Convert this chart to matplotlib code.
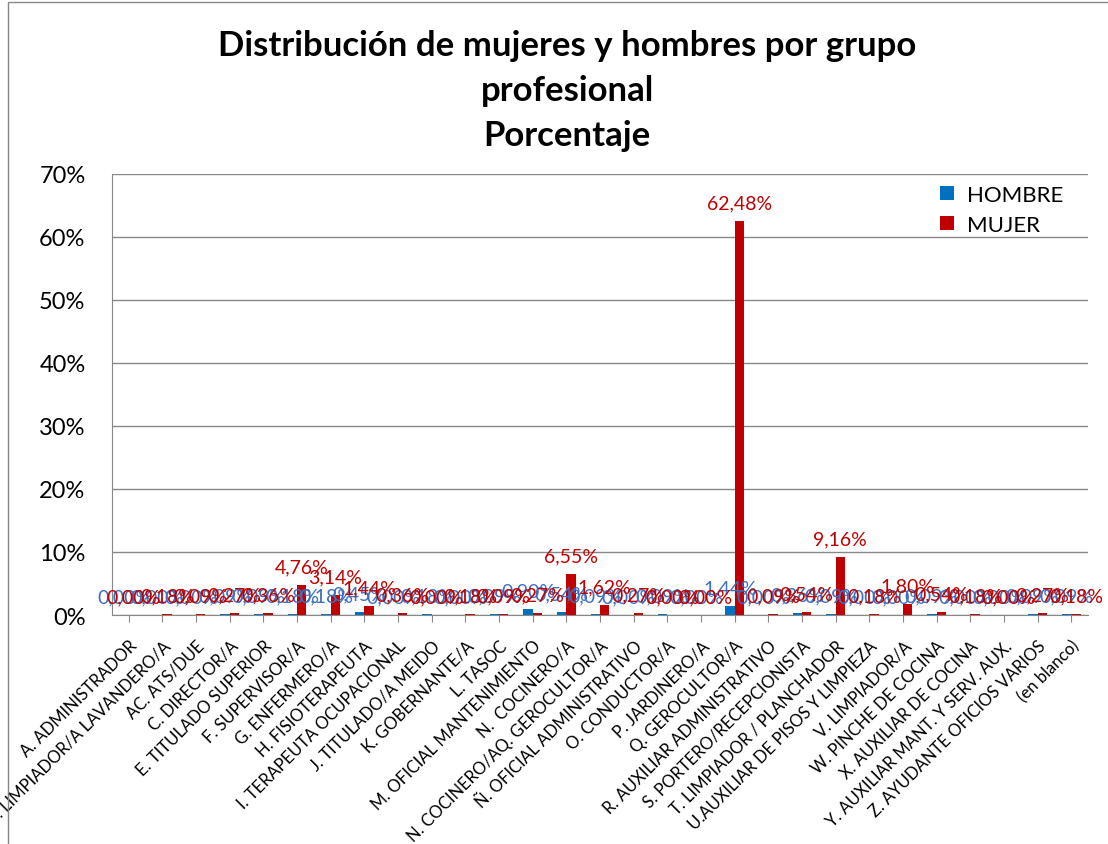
import matplotlib
matplotlib.use("Agg")
import matplotlib.pyplot as plt
import numpy as np
from matplotlib.patches import Rectangle

plt.rcParams['font.family'] = ['Lato', 'DejaVu Sans']

grupos = [
    "A. ADMINISTRADOR",
    "AB. LIMPIADOR/A LAVANDERO/A",
    "AC. ATS/DUE",
    "C. DIRECTOR/A",
    "E. TITULADO SUPERIOR",
    "F. SUPERVISOR/A",
    "G. ENFERMERO/A",
    "H. FISIOTERAPEUTA",
    "I. TERAPEUTA OCUPACIONAL",
    "J. TITULADO/A MEIDO",
    "K. GOBERNANTE/A",
    "L. TASOC",
    "M. OFICIAL MANTENIMIENTO",
    "N.  COCINERO/A",
    "N. COCINERO/AQ. GEROCULTOR/A",
    "Ñ. OFICIAL ADMINISTRATIVO",
    "O. CONDUCTOR/A",
    "P. JARDINERO/A",
    "Q. GEROCULTOR/A",
    "R. AUXILIAR ADMINISTRATIVO",
    "S. PORTERO/RECEPCIONISTA",
    "T. LIMPIADOR / PLANCHADOR",
    "U.AUXILIAR DE PISOS Y LIMPIEZA",
    "V. LIMPIADOR/A",
    "W. PINCHE DE COCINA",
    "X. AUXILIAR DE COCINA",
    "Y. AUXILIAR MANT. Y SERV. AUX.",
    "Z. AYUDANTE OFICIOS VARIOS",
    "(en blanco)",
]

hombre = [0.00, 0.00, 0.00, 0.09, 0.09, 0.18, 0.18, 0.45, 0.00, 0.18,
          0.00, 0.09, 0.90, 0.54, 0.09, 0.00, 0.09, 0.00, 1.44, 0.00,
          0.36, 0.09, 0.00, 0.00, 0.09, 0.00, 0.00, 0.09, 0.09]
mujer = [0.00, 0.18, 0.09, 0.27, 0.36, 4.76, 3.14, 1.44, 0.36, 0.00,
         0.18, 0.09, 0.27, 6.55, 1.62, 0.27, 0.00, 0.00, 62.48, 0.09,
         0.54, 9.16, 0.18, 1.80, 0.54, 0.18, 0.00, 0.27, 0.18]

azul = "#0070C0"
rojo = "#C00000"

fig = plt.figure(figsize=(11.08, 8.45), dpi=100)
ax = fig.add_axes([0.101, 0.271, 0.881, 0.522])

x = np.arange(len(grupos))
w = 0.28
ax.bar(x - w / 2, hombre, w, color=azul, label="HOMBRE")
ax.bar(x + w / 2, mujer, w, color=rojo, label="MUJER")

def pct(v):
    return f"{v:.2f}".replace(".", ",") + "%"

# etiquetas de valor sobre cada barra
for xi, v in zip(x, hombre):
    ax.annotate(pct(v), (xi - w / 2, v), xytext=(0, 7), textcoords="offset points",
                ha="center", va="bottom", fontsize=14, color="#3F6FBF")
for xi, v in zip(x, mujer):
    ax.annotate(pct(v), (xi + w / 2, v), xytext=(0, 7), textcoords="offset points",
                ha="center", va="bottom", fontsize=14, color=rojo)

ax.set_xlim(-0.5, len(grupos) - 0.5)
ax.set_ylim(0, 70)
ax.set_yticks(range(0, 71, 10))
ax.set_yticklabels([f"{t}%" for t in range(0, 71, 10)], fontsize=17)
ax.yaxis.grid(True, color="#888888", linewidth=1)
ax.set_axisbelow(True)
ax.tick_params(axis="y", length=0, pad=19)
ax.tick_params(axis="x", length=5, color="#888888", pad=11)

ax.set_xticks(x)
ax.set_xticklabels(grupos, rotation=45, ha="right", rotation_mode="anchor",
                   fontsize=12)

for side in ["top", "right"]:
    ax.spines[side].set_visible(False)
ax.spines["left"].set_color("#888888")
ax.spines["bottom"].set_color("#888888")

ax.legend(loc="upper right", bbox_to_anchor=(0.995, 1.02), frameon=False,
          fontsize=16, handlelength=0.6, handleheight=0.6, handletextpad=0.6,
          labelspacing=0.45)

fig.text(0.512, 0.964, "Distribución de mujeres y hombres por grupo\nprofesional\nPorcentaje",
         ha="center", va="top", fontsize=25, fontweight="bold",
         linespacing=1.5)

# marco del área del gráfico
fig.patches.append(Rectangle((0.007, -0.01), 1.5, 1.006, transform=fig.transFigure,
                             fill=False, edgecolor="#888888", linewidth=1))

fig.savefig("out.png", dpi=100)
